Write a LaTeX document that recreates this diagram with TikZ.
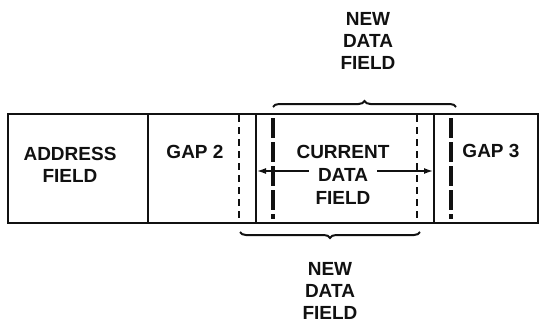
\documentclass[tikz,border=0pt]{standalone}
\usepackage{fontspec}
\setmainfont{Liberation Sans}
\usetikzlibrary{arrows.meta}
\usetikzlibrary{decorations.pathreplacing}
\definecolor{color_record_ink}{HTML}{111111}
\def\recordtop{114}
\def\recordbottom{223}
\def\recordleft{8}
\def\recordright{538}
\def\recordlinewidth{2.2pt}
\def\labelfont{\bfseries\fontsize{19}{22}\selectfont}
\tikzset{
    fieldlabel/.style={color_record_ink, font=\labelfont, align=center, inner sep=0pt},
    gapdash/.style={color_record_ink, line width=1.8pt, dash pattern=on 7pt off 5pt},
    syncdash/.style={color_record_ink, line width=3.6pt, dash pattern=on 20pt off 4pt},
    newbrace/.style={color_record_ink, decorate, decoration={brace, amplitude=6pt}, line width=2pt},
}

\begin{document}
\begin{tikzpicture}[x=1pt,y=-1pt]
        \useasboundingbox (0,0) rectangle (541,324);
        % record outline
        \draw[color_record_ink, line width=\recordlinewidth] (\recordleft,\recordtop) rectangle (\recordright,\recordbottom);
        % solid field boundaries
        \foreach \x in {148,256,434}
            \draw[color_record_ink, line width=\recordlinewidth] (\x,\recordtop) -- (\x,\recordbottom);
        % old gap boundaries
        \foreach \x in {239,417}
            \draw[gapdash] (\x,\recordtop+1) -- (\x,\recordbottom-1);
        % new data boundaries
        \foreach \x in {273,451}
            \draw[syncdash] (\x,\recordtop+4) -- (\x,\recordbottom-4);
        % field names
        \node[fieldlabel] (address) at (70,165) {ADDRESS\\FIELD};
        \node[fieldlabel] (gaptwo) at (195,152) {GAP 2};
        \node[fieldlabel] (gapthree) at (491,151) {GAP 3};
        \node[fieldlabel] (current) at (343,152) {CURRENT};
        \node[fieldlabel, inner xsep=9pt] (currentdata) at (343,175) {DATA};
        \node[fieldlabel] (currentfield) at (343,198) {FIELD};
        % arrow ends on the solid boundaries
        \coordinate (curleft) at (257,171);
        \coordinate (curright) at (433,171);
        \draw[color_record_ink, line width=1.4pt, -{Latex[length=9pt,width=6pt]}] (currentdata.west |- curleft) -- (curleft);
        \draw[color_record_ink, line width=1.4pt, -{Latex[length=9pt,width=6pt]}] (currentdata.east |- curright) -- (curright);
        % new data field above
        \node[fieldlabel] (newtop) at (368,41) {NEW\\DATA\\FIELD};
        \coordinate (topbraceleft) at (273,107);
        \coordinate (topbraceright) at (456,107);
        \draw[newbrace] (topbraceleft) -- (topbraceright);
        % new data field below
        \node[fieldlabel] (newbottom) at (330,291) {NEW\\DATA\\FIELD};
        \coordinate (botbraceleft) at (240,232);
        \coordinate (botbraceright) at (420,232);
        \draw[newbrace] (botbraceright) -- (botbraceleft);
    \end{tikzpicture}
\end{document}
